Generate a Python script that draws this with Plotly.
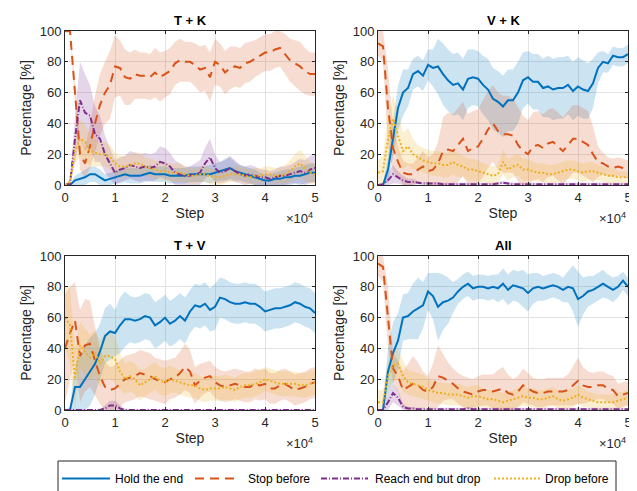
import plotly.graph_objects as go

STEP = [i * 1000 for i in range(51)]
X_TICKS = [0, 10000, 20000, 30000, 40000, 50000]
X_TICK_TEXT = ["0", "1", "2", "3", "4", "5"]
Y_TICKS = [0, 20, 40, 60, 80, 100]
SERIES = ["Hold the end", "Stop before", "Reach end but drop", "Drop before"]
TITLES = ["T + K", "V + K", "T + V", "All"]

# ---- T + K ----
TK_hold = [0,0,3,4,5,7,7,5,3,4, 5,6,7,6,6,6,7,8,7,7, 7,6,6,6,6,7,7,7,7,7, 8,9,10,11,9,8,7,6,5,4, 3,3,4,4,5,5,6,6,7,8, 8]
TK_hold_hw = [0,1,3,4,5,5,5,5,4,4, 4,5,5,5,5,5,5,5,5,5, 5,5,5,5,5,5,5,5,5,6, 6,6,7,7,6,5,5,5,5,4, 4,4,4,5,5,5,5,6,6,6, 6]
TK_stop = [100,100,60,20,14,25,40,52,60,65, 77,76,70,69,72,71,71,70,73,70, 72,74,79,81,80,80,78,75,76,70, 80,78,73,76,77,76,79,80,82,84, 86,86,88,89,85,81,79,77,74,72, 72]
TK_stop_hw = [1,2,8,10,10,14,18,20,20,22, 20,18,18,17,16,15,15,15,16,16, 15,15,14,14,13,13,14,15,15,16, 15,14,14,14,13,13,13,13,12,12, 12,12,12,12,13,14,15,16,15,14, 14]
TK_reach = [0,1,30,55,47,45,33,30,20,14, 8,10,11,13,12,11,12,11,12,15, 14,12,8,7,6,6,7,8,14,18, 11,8,9,11,9,7,6,7,6,5, 5,4,5,6,6,7,8,9,8,10, 11]
TK_reach_hw = [0,1,15,25,25,20,18,15,12,10, 8,8,8,9,9,9,9,9,9,10, 10,9,8,7,6,6,7,8,10,12, 9,7,7,8,7,6,6,6,6,5, 5,5,5,6,6,6,7,8,8,9, 9]
TK_drop = [0,2,22,30,28,22,21,20,20,18, 14,12,12,13,14,14,12,11,10,9, 9,8,8,8,7,6,6,7,7,6, 5,5,6,7,7,7,6,5,6,6, 7,7,6,6,7,9,12,14,11,8, 7]
TK_drop_hw = [0,2,8,12,12,10,9,8,8,8, 7,7,7,7,7,7,6,6,6,6, 6,6,6,6,5,5,5,5,5,5, 5,5,5,5,5,5,5,5,5,5, 5,5,5,5,6,7,8,9,8,7, 7]

# ---- V + K ----
VK_hold = [0,0,10,30,50,60,63,72,74,71, 78,76,77,72,68,65,66,62,69,70, 69,65,62,56,54,51,55,55,60,68, 70,67,67,63,64,62,63,63,65,61, 64,62,61,66,76,80,79,84,83,83, 85]
VK_hold_hw = [0,1,8,12,15,15,12,10,10,10, 10,12,18,20,20,20,20,20,19,18, 18,19,20,20,20,20,20,20,20,18, 17,18,18,19,20,20,20,20,19,19, 19,19,18,16,10,7,6,6,6,6, 6]
VK_stop = [92,90,50,24,15,8,7,7,10,12, 9,10,14,22,23,22,26,30,22,24, 25,30,36,40,35,33,33,32,26,22, 20,25,26,24,27,28,25,22,26,30, 30,28,26,20,15,14,12,11,12,11, 10]
VK_stop_hw = [8,10,25,15,10,8,7,7,8,10, 9,10,14,22,24,24,24,24,24,24, 24,25,25,25,25,25,25,24,24,23, 22,22,22,22,22,22,22,22,22,22, 22,22,22,18,10,7,6,6,6,6, 6]
VK_reach = [0,0.5,3,7,5,3,2,2,1.5,1, 1,1,1,0.5,0.5,0.5,0.5,0.5,0.5,0.5, 0.5,0.5,0.5,0.5,1,1.5,1,0.5,0.5,0.5, 0.5,0.5,0.5,0.5,0.5,0.5,0.5,0.5,0.5,0.5, 0.5,0.5,0.5,0.5,0.5,0.5,0.5,0.5,0.5,0.5, 0.5]
VK_reach_hw = [0,1,5,6,4,3,2,2,1,1, 1,1,1,1,1,1,1,1,1,1, 1,1,1,1,1,1,1,1,1,1, 1,1,1,1,1,1,1,1,1,1, 1,1,1,1,1,1,1,1,1,1, 1]
VK_drop = [8,9,30,43,32,22,25,20,18,16, 15,14,14,13,13,15,13,12,10,10, 9,8,7,6,7,15,10,12,13,10, 10,9,8,8,7,7,8,9,10,10, 9,8,9,9,8,7,6,6,5,5, 5]
VK_drop_hw = [8,10,15,15,15,12,12,10,8,8, 8,8,8,8,8,8,8,7,7,7, 7,6,6,6,6,8,7,7,7,7, 7,6,6,6,6,6,6,6,6,6, 6,6,6,6,5,5,5,5,4,4, 4]

# ---- T + V ----
TV_hold = [0,0,15,15,20,25,30,38,48,51, 50,55,59,59,58,59,61,60,55,57, 60,56,58,61,58,64,68,67,69,65, 67,73,72,70,69,69,70,69,69,67, 64,65,66,66,67,68,70,69,67,66, 63]
TV_hold_hw = [0,2,15,20,22,22,20,18,18,18, 15,18,18,15,15,15,15,15,15,15, 15,15,15,15,15,14,14,14,14,14, 15,13,13,13,13,13,13,13,13,13, 13,13,13,13,13,13,13,13,13,13, 13]
TV_stop = [40,50,58,35,42,43,32,22,15,13, 14,17,20,21,22,24,23,22,20,19, 18,20,21,24,28,25,16,19,21,22, 18,16,15,16,17,16,15,15,17,16, 17,14,14,16,17,15,13,14,15,17, 18]
TV_stop_hw = [35,30,25,30,30,28,22,18,16,15, 15,15,15,15,15,15,15,15,14,14, 14,13,13,14,15,14,12,11,10,10, 10,10,10,10,10,10,10,10,10,10, 10,10,10,10,10,10,10,10,10,10, 10]
TV_reach = [0,0,0,0,0,0,0,0,1,3, 3,1,0,0,0,0,0,0,0,0, 0,0,0,0,0,0,0,0,0,0, 0,0,0,0,0,0,0,0,0,0, 0,0,0,0,0,0,0,0,0,0, 0]
TV_reach_hw = [0.5,0.5,0.5,0.5,0.5,0.5,0.5,0.5,2,3, 3,2,0.5,0.5,0.5,0.5,0.5,0.5,0.5,0.5, 0.5,0.5,0.5,0.5,0.5,0.5,0.5,0.5,0.5,0.5, 0.5,0.5,0.5,0.5,0.5,0.5,0.5,0.5,0.5,0.5, 0.5,0.5,0.5,0.5,0.5,0.5,0.5,0.5,0.5,0.5, 0.5]
TV_drop = [60,55,20,42,38,34,37,30,35,35, 33,25,20,22,20,16,18,20,22,19, 18,20,19,18,17,16,16,14,13,14, 14,14,15,14,13,15,16,16,17,18, 20,19,18,17,17,17,17,16,16,17, 18]
TV_drop_hw = [20,25,20,15,15,15,15,15,15,15, 15,12,10,10,10,10,9,9,9,9, 9,9,8,8,8,8,8,8,8,8, 8,8,8,8,8,8,8,8,8,8, 8,8,8,8,8,8,8,8,8,8, 8]

# ---- All ----
AL_hold = [0,0,25,37,45,60,61,64,66,68, 77,74,67,70,71,73,77,80,82,79, 80,80,79,80,79,82,78,81,80,79, 76,79,80,79,80,81,80,78,80,79, 72,74,77,78,80,82,80,78,80,84, 80]
AL_hold_hw = [0,1,15,20,18,15,15,18,20,15, 12,15,22,18,15,10,8,8,8,8, 8,8,8,8,9,10,10,10,10,12, 12,10,9,8,8,8,8,8,10,15, 18,12,10,9,9,9,8,8,7,6, 6]
AL_stop = [95,93,60,27,22,13,15,17,16,13, 12,15,22,21,19,17,14,12,11,10, 12,13,13,12,13,14,11,10,12,16, 14,12,11,11,12,12,12,12,13,16, 19,16,15,15,16,16,14,13,9,10, 11]
AL_stop_hw = [8,10,20,10,10,12,15,18,15,12, 10,15,20,15,12,10,10,10,10,10, 10,10,10,11,13,14,12,10,10,11, 10,9,9,9,9,9,9,9,10,13, 15,12,10,9,9,9,9,9,8,8, 8]
AL_reach = [0,0,5,11,8,2,1,1,0.5,0.5, 0.5,0.5,0.5,0.5,0.5,0.5,0.5,0.5,1,0.5, 0.5,0.5,0.5,0.5,0.5,0.5,0.5,0.5,0.5,0.5, 0.5,0.5,0.5,0.5,0.5,0.5,0.5,0.5,0.5,0.5, 0.5,0.5,0.5,0.5,0.5,0.5,0.5,0.5,0.5,0.5, 0.5]
AL_reach_hw = [0,1,5,6,5,2,1,1,1,1, 1,1,1,1,1,1,1,1,1,1, 1,1,1,1,1,1,1,1,1,1, 1,1,1,1,1,1,1,1,1,1, 1,1,1,1,1,1,1,1,1,1, 1]
AL_drop = [5,5,22,29,30,22,18,17,16,15, 13,12,11,11,10,10,10,9,8,9, 9,8,7,7,6,5,6,7,8,9, 8,8,7,7,8,9,7,6,7,8, 10,8,7,6,5,5,5,5,6,7, 8]
AL_drop_hw = [8,8,10,10,10,10,8,8,8,8, 7,7,7,7,7,7,7,7,7,7, 7,6,6,6,6,6,6,6,6,6, 6,6,6,6,6,6,6,6,6,6, 6,6,5,5,5,5,5,5,5,5, 5]

PANELS = [
    [(TK_hold, TK_hold_hw), (TK_stop, TK_stop_hw), (TK_reach, TK_reach_hw), (TK_drop, TK_drop_hw)],
    [(VK_hold, VK_hold_hw), (VK_stop, VK_stop_hw), (VK_reach, VK_reach_hw), (VK_drop, VK_drop_hw)],
    [(TV_hold, TV_hold_hw), (TV_stop, TV_stop_hw), (TV_reach, TV_reach_hw), (TV_drop, TV_drop_hw)],
    [(AL_hold, AL_hold_hw), (AL_stop, AL_stop_hw), (AL_reach, AL_reach_hw), (AL_drop, AL_drop_hw)],
]

COLORS = ["#0072BD", "#D95319", "#7E2F8E", "#EDB120"]
FILLS = ["rgba(0,114,189,0.2)", "rgba(217,83,25,0.2)", "rgba(126,47,142,0.2)", "rgba(237,177,32,0.2)"]
DASHES = ["solid", "9px,6px", "6px,2px,1px,2px", "2px,2px"]

W, H = 637, 491
# plot-area pixel boxes (left, right, top, bottom)
BOXES = [(57, 307, 23, 177), (370, 620, 23, 177), (57, 307, 248, 402), (370, 620, 248, 402)]
# custom legend layout (pixels)
LEG_BOX = (50, 608, 453, 488)
LEG_LINES = [(54, 102), (187, 232), (313, 360), (486, 532)]
LEG_TEXT_X = [105, 238, 365, 535]

FONT = "Liberation Sans, Arial, sans-serif"
AX_COLOR = "#262626"


def px(x):
    return x / W


def py(y):
    return 1 - y / H


fig = go.Figure()
layout = dict(
    width=W, height=H, margin=dict(l=0, r=0, t=0, b=0),
    paper_bgcolor="white", plot_bgcolor="white",
    font=dict(family=FONT, size=13, color=AX_COLOR),
    showlegend=False,
)
annotations = []
shapes = []

for p, (series, box) in enumerate(zip(PANELS, BOXES)):
    l, r, t, b = box
    xa = "x" if p == 0 else f"x{p+1}"
    ya = "y" if p == 0 else f"y{p+1}"
    for s, (mean, hw) in enumerate(series):
        up = [min(100, m + h) for m, h in zip(mean, hw)]
        lo = [max(0, m - h) for m, h in zip(mean, hw)]
        fig.add_trace(go.Scatter(
            x=STEP + STEP[::-1], y=up + lo[::-1], fill="toself", fillcolor=FILLS[s],
            line=dict(width=0), mode="lines", hoverinfo="skip", showlegend=False,
            xaxis=xa, yaxis=ya))
    for s, (mean, hw) in enumerate(series):
        fig.add_trace(go.Scatter(
            x=STEP, y=mean, mode="lines", name=SERIES[s],
            line=dict(color=COLORS[s], width=2, dash=DASHES[s]),
            showlegend=False, xaxis=xa, yaxis=ya))

    axis_common = dict(showline=True, linecolor=AX_COLOR, linewidth=1, mirror="ticks",
                       ticks="inside", ticklen=3, tickcolor=AX_COLOR, automargin=False,
                       showgrid=True, gridcolor="#e3e3e3", gridwidth=1, zeroline=False,
                       tickfont=dict(size=13, color=AX_COLOR))
    layout["xaxis" if p == 0 else f"xaxis{p+1}"] = dict(
        axis_common, domain=[px(l), px(r)], range=[0, 50000],
        tickvals=X_TICKS, ticktext=X_TICK_TEXT, anchor=ya,
        title=dict(text="Step", font=dict(size=14, color=AX_COLOR), standoff=4))
    layout["yaxis" if p == 0 else f"yaxis{p+1}"] = dict(
        axis_common, domain=[py(b), py(t)], range=[0, 100],
        tickvals=Y_TICKS, anchor=xa,
        title=dict(text="Percentage [%]", font=dict(size=14, color=AX_COLOR), standoff=4))
    annotations.append(dict(text="<b>" + TITLES[p] + "</b>", x=px((l + r) / 2), y=py(t - 10),
                            xref="paper", yref="paper", showarrow=False,
                            font=dict(size=13, color="#000000"), xanchor="center", yanchor="middle"))
    annotations.append(dict(text="×10<sup>4</sup>", x=px(r), y=py(b + 33),
                            xref="paper", yref="paper", showarrow=False,
                            font=dict(size=13, color=AX_COLOR), xanchor="right", yanchor="middle"))

# custom legend
lx0, lx1, ly0, ly1 = LEG_BOX
shapes.append(dict(type="rect", xref="paper", yref="paper",
                   x0=px(lx0), x1=px(lx1), y0=py(ly1), y1=py(ly0),
                   line=dict(color=AX_COLOR, width=1), fillcolor="white", layer="above"))
ymid = (ly0 + ly1) / 2
for s in range(4):
    a, c = LEG_LINES[s]
    shapes.append(dict(type="line", xref="paper", yref="paper",
                       x0=px(a), x1=px(c), y0=py(ymid), y1=py(ymid),
                       line=dict(color=COLORS[s], width=2, dash=DASHES[s]), layer="above"))
    annotations.append(dict(text=SERIES[s], x=px(LEG_TEXT_X[s]), y=py(ymid),
                            xref="paper", yref="paper", showarrow=False,
                            font=dict(size=12, color="#000000"), xanchor="left", yanchor="middle"))

layout["annotations"] = annotations
layout["shapes"] = shapes
fig.update_layout(**layout)
fig.write_html("out.html")
